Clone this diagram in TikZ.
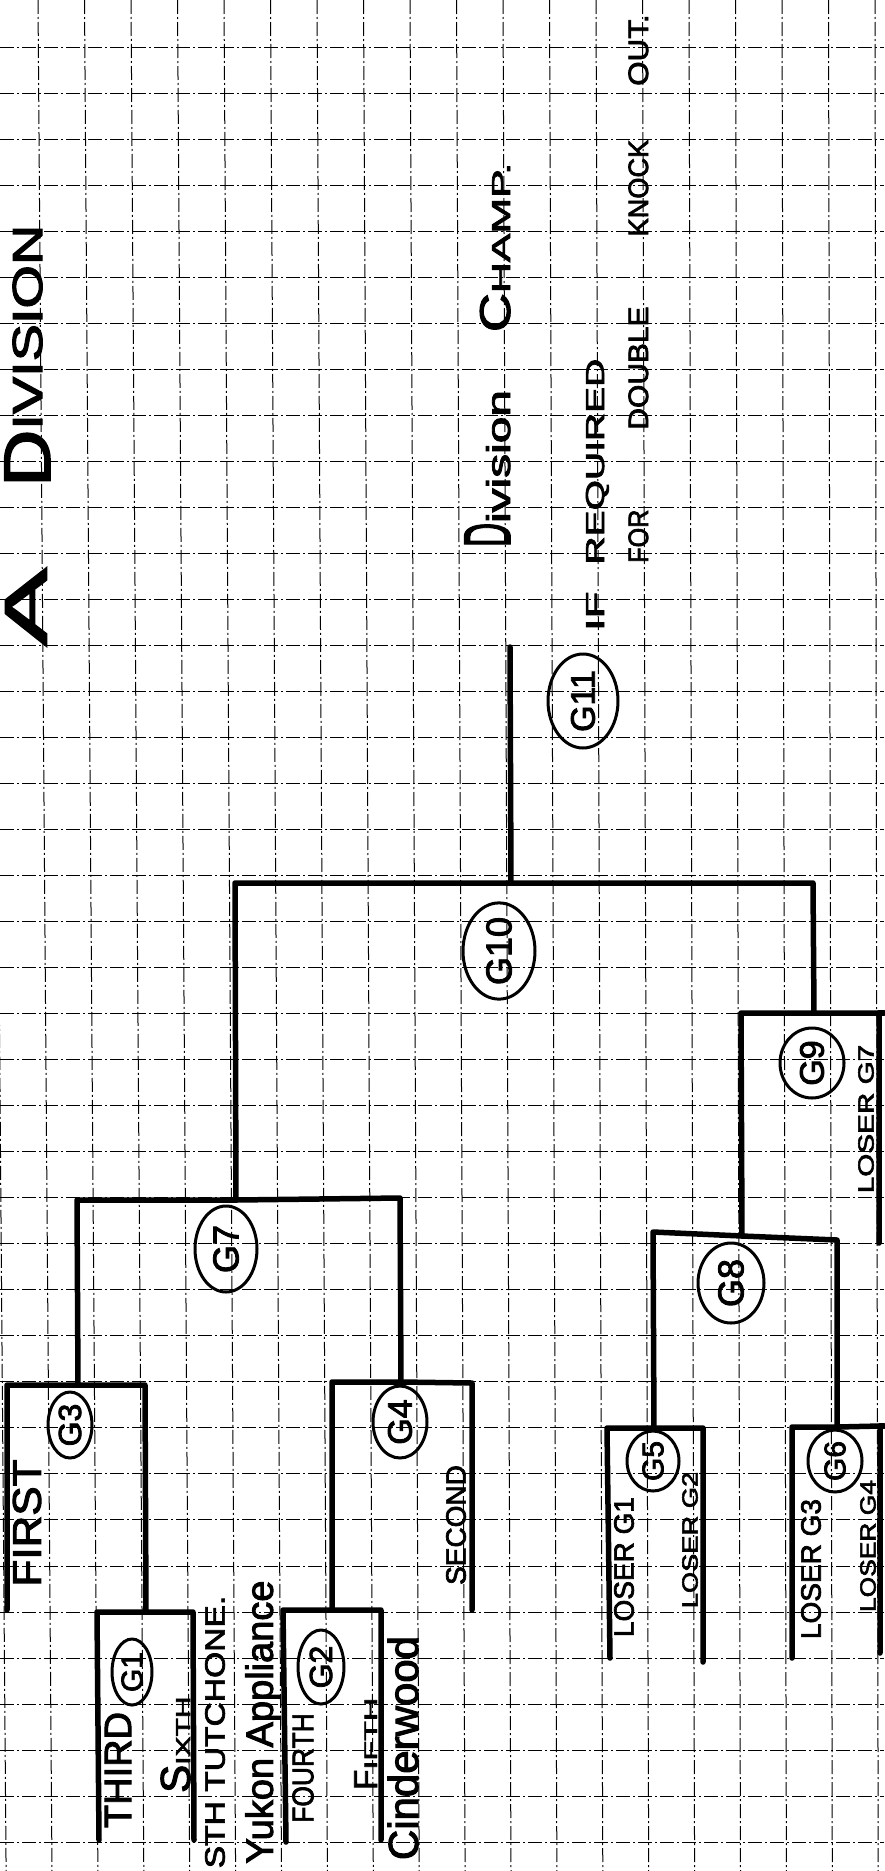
\documentclass[tikz,border=0pt]{standalone}
\usepackage{fontspec}
\setmainfont{Liberation Sans}[FakeBold=2.5]
\usetikzlibrary{shapes.geometric}
\newcommand\fsz[1]{\fontsize{#1}{#1}\selectfont}
\begin{document}
\begin{tikzpicture}[x=1pt,y=-1pt,
  gridln/.style={line width=1pt, black, dash pattern=on 14pt off 3pt on 2pt off 3pt},
  brk/.style={line width=5.5pt, black, line join=round, line cap=round},
  game/.style={ellipse, draw, line width=3pt, rotate=90, inner sep=0pt},
  lbl/.style={rotate=90, inner sep=0pt}]
\fill[white] (0,0) rectangle (884,1871);
\useasboundingbox (0,0) rectangle (884,1871);
% graph paper
\foreach \i in {-1,...,18} {\draw[gridln] ({38+46.5*\i},0) -- ({52+45.9*\i},1871);}
\foreach \j in {0,...,39} {\draw[gridln] (0,{47+46.03*\j}) -- (884,{47+46.03*\j});}
% junction coordinates
\coordinate (champ) at (510,647);
\coordinate (g10L) at (235,883); \coordinate (g10S) at (511,883); \coordinate (g10R) at (813,883);
\coordinate (g7L) at (77,1200); \coordinate (g7S) at (236,1200); \coordinate (g7R) at (400,1198);
\coordinate (g9L) at (741,1013); \coordinate (g9S) at (814,1013); \coordinate (g9R) at (879,1013);
\coordinate (g9E) at (884,1013); \coordinate (g9RB) at (879,1243);
\coordinate (g8L) at (653,1232); \coordinate (g8S) at (742,1236); \coordinate (g8R) at (837,1240);
\coordinate (g3L) at (7,1385); \coordinate (g3S) at (78,1385); \coordinate (g3R) at (145,1385); \coordinate (g3LB) at (7,1610);
\coordinate (g4L) at (332,1382); \coordinate (g4S) at (401,1382); \coordinate (g4R) at (472,1383); \coordinate (g4RB) at (472,1610);
\coordinate (g1L) at (97,1612); \coordinate (g1S) at (146,1612); \coordinate (g1R) at (193,1612);
\coordinate (g1LB) at (99,1840); \coordinate (g1RB) at (194,1840);
\coordinate (g2L) at (283,1610); \coordinate (g2S) at (332,1610); \coordinate (g2R) at (381,1610);
\coordinate (g2LB) at (286,1842); \coordinate (g2RB) at (381,1840);
\coordinate (g5L) at (607,1428); \coordinate (g5S) at (654,1428); \coordinate (g5R) at (703,1428);
\coordinate (g5LB) at (610,1658); \coordinate (g5RB) at (703,1662);
\coordinate (g6L) at (792,1427); \coordinate (g6S) at (837,1427); \coordinate (g6R) at (880,1426);
\coordinate (g6E) at (884,1426); \coordinate (g6LB) at (792,1658); \coordinate (g6RB) at (880,1653);
% bracket lines
\draw[brk] (g10S) -- (champ);
\draw[brk] (g7S) -- (g10L) -- (g10S) -- (g10R) -- (g9S);
\draw[brk] (g3S) -- (g7L) -- (g7S) -- (g7R) -- (g4S);
\draw[brk] (g8S) -- (g9L) -- (g9S) -- (g9R) -- (g9RB);
\draw[brk] (g9R) -- (g9E);
\draw[brk] (g5S) -- (g8L) -- (g8S) -- (g8R) -- (g6S);
\draw[brk] (g3LB) -- (g3L) -- (g3S) -- (g3R) -- (g1S);
\draw[brk] (g2S) -- (g4L) -- (g4S) -- (g4R) -- (g4RB);
\draw[brk] (g1LB) -- (g1L) -- (g1S) -- (g1R) -- (g1RB);
\draw[brk] (g2LB) -- (g2L) -- (g2S) -- (g2R) -- (g2RB);
\draw[brk] (g5LB) -- (g5L) -- (g5S) -- (g5R) -- (g5RB);
\draw[brk] (g6LB) -- (g6L) -- (g6S) -- (g6R) -- (g6RB);
\draw[brk] (g6R) -- (g6E);
% game circles
\node[game, minimum width=66pt, minimum height=40pt, font=\fsz{30}] (c1) at (132,1672) {G1};
\node[game, minimum width=74pt, minimum height=46pt, font=\fsz{32}] (c2) at (321,1667) {G2};
\node[game, minimum width=66pt, minimum height=44pt, font=\fsz{32}] (c3) at (70,1425) {G3};
\node[game, minimum width=72pt, minimum height=54pt, font=\fsz{34}] (c4) at (400,1422) {G4};
\node[game, minimum width=60pt, minimum height=52pt, font=\fsz{30}] (c5) at (653,1461) {G5};
\node[game, minimum width=62pt, minimum height=54pt, font=\fsz{30}] (c6) at (835,1461) {G6};
\node[game, minimum width=86pt, minimum height=62pt, font=\fsz{36}] (c7) at (226,1249) {G7};
\node[game, minimum width=80pt, minimum height=66pt, font=\fsz{36}] (c8) at (731,1283) {G8};
\node[game, minimum width=70pt, minimum height=64pt, font=\fsz{34}] (c9) at (812,1063) {G9};
\node[game, minimum width=96pt, minimum height=72pt, font=\fsz{36}] (c10) at (499,951) {G10};
\node[game, minimum width=94pt, minimum height=70pt, font=\fsz{34}] (c11) at (583,701) {G11};
% titles and notes
\node[lbl] (tA) at (26,607) {\fsz{60}\scalebox{1.95}[1]{A}};
\node[lbl, anchor=base west] (tDiv) at (50,487) {{\fsz{66}\scalebox{1.2}[1]{D}}{\fsz{42}\raisebox{8pt}{\scalebox{1.33}[1]{IVISION}}}};
\node[lbl, anchor=base west] (tChamp) at (510,547) {{\fsz{66}\scalebox{0.5}[1]{D}}{\fsz{33}\scalebox{1.45}[1]{ivision}}\hspace{58pt}{\fsz{43}\scalebox{1.25}[1]{C}}{\fsz{26}\scalebox{1.65}[1]{HAMP.}}};
\node[lbl, anchor=base west] (tIf) at (604,631) {\fsz{26}\scalebox{1.7}[1]{IF}\hspace{27pt}\scalebox{1.5}[1]{REQUIRED}};
\node[lbl, anchor=base west] (tFor) at (648,563) {\fsz{28}\scalebox{0.9}[1]{FOR}\hspace{80pt}\scalebox{1.07}[1]{DOUBLE}\hspace{70pt}\scalebox{0.97}[1]{KNOCK}\hspace{54pt}\scalebox{1.12}[1]{OUT.}};
% team and seed labels
\node[lbl] (tFirst) at (27,1523) {\fsz{40}\scalebox{1.1}[1]{FIRST}};
\node[lbl] (tThird) at (118,1770) {\fsz{38}THIRD};
\node[lbl, anchor=base west] (tSixth) at (190,1793) {{\fsz{42}S}{\fsz{20}\scalebox{1.5}[1]{IXTH}}};
\node[lbl] (tSth) at (215,1732) {\fsz{28}\scalebox{1.2}[1]{STH TUTCHONE.}};
\node[lbl] (tYukon) at (263,1722) {\fsz{38}Yukon Appliance};
\node[lbl] (tFourth) at (303,1768) {\fsz{30}\scalebox{0.88}[1]{FOURTH}};
\node[lbl, anchor=base west] (tFifth) at (377,1790) {{\fsz{33}F}{\fsz{18}\scalebox{1.8}[1]{IFTH}}};
\node[lbl] (tCinder) at (403,1748) {\fsz{42}Cinderwood};
\node[lbl] (tSecond) at (456,1525) {\fsz{28}SECOND};
\node[lbl] (tL1) at (624,1567) {\fsz{28}LOSER G1};
\node[lbl] (tL2) at (690,1540) {\fsz{22}\scalebox{1.24}[1]{LOSER G2}};
\node[lbl] (tL3) at (811,1569) {\fsz{28}LOSER G3};
\node[lbl] (tL4) at (868,1546) {\fsz{22}\scalebox{1.2}[1]{LOSER G4}};
\node[lbl] (tL7) at (866,1119) {\fsz{22}\scalebox{1.35}[1]{LOSER G7}};
\end{tikzpicture}
\end{document}
